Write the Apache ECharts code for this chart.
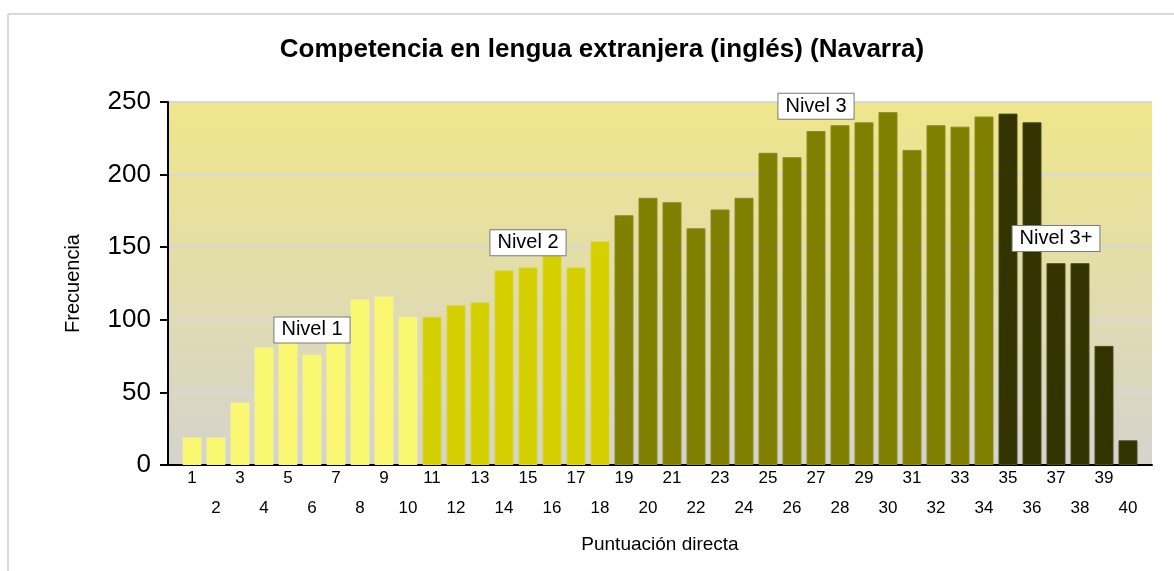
<!DOCTYPE html>
<html>
<head>
<meta charset="utf-8">
<script src="https://cdn.jsdelivr.net/npm/echarts@6/dist/echarts.min.js"></script>
<style>
html,body{margin:0;padding:0;background:#fff;}
#chart{width:1174px;height:571px;}
</style>
</head>
<body>
<div id="chart"></div>
<script>
// Data
const scores = [1,2,3,4,5,6,7,8,9,10,11,12,13,14,15,16,17,18,19,20,21,22,23,24,25,26,27,28,29,30,31,32,33,34,35,36,37,38,39,40];
const frequencies = [19,19,43,81,86,76,87,114,116,102,102,110,112,134,136,146,136,154,172,184,181,163,176,184,215,212,230,234,236,243,217,234,233,240,242,236,139,139,82,17];
const levelNames = ['Nivel 1','Nivel 2','Nivel 3','Nivel 3+'];
const levelMaxScore = [10,18,34,40];
const levelColors = ['#FAF870','#D4D000','#808000','#333300'];
const levelBorders = ['#F6F48A','#D8D530','#8A8A24','#4A4A1E'];
// annotation boxes: [score, frequency] positions in data space
const levelLabelX = [6,15,27,37];
const levelLabelY = [93,153,247,156];
const yTicks = [0,50,100,150,200,250];

function levelOf(s){ for(let i=0;i<levelMaxScore.length;i++){ if(s<=levelMaxScore[i]) return i; } return levelMaxScore.length-1; }

const barData = scores.map((s,i)=>({
  value:[s,frequencies[i]],
  itemStyle:{color:levelColors[levelOf(s)], borderColor:levelBorders[levelOf(s)], borderWidth:1}
}));
const labelData = levelNames.map((n,i)=>({name:n, value:[levelLabelX[i], levelLabelY[i]]}));

const FONT = '"Liberation Sans", Arial, sans-serif';
const chart = echarts.init(document.getElementById('chart'), null, {renderer:'canvas'});
chart.setOption({
  animation:false,
  backgroundColor:'#ffffff',
  title:{
    text:'Competencia en lengua extranjera (inglés) (Navarra)',
    left:597, top:32, textAlign:'center',
    textStyle:{fontFamily:FONT, fontSize:26, fontWeight:'bold', color:'#000'}
  },
  graphic:[
    {type:'line', shape:{x1:8, y1:14, x2:1174, y2:14}, style:{stroke:'#d9d9d9', lineWidth:2}, silent:true},
    {type:'line', shape:{x1:8, y1:14, x2:8, y2:571}, style:{stroke:'#d9d9d9', lineWidth:2}, silent:true}
  ],
  grid:{
    left:168, right:22, top:102, bottom:106, show:true, borderWidth:0,
    backgroundColor:new echarts.graphic.LinearGradient(0,0,0,1,[
      {offset:0, color:'#EFE68A'},
      {offset:1, color:'#D5D3CE'}
    ])
  },
  xAxis:{
    type:'value', min:0, max:41, interval:1,
    name:'Puntuación directa', nameLocation:'middle', nameGap:70,
    nameTextStyle:{fontFamily:FONT, fontSize:19, color:'#000'},
    axisLine:{show:true, onZero:false, lineStyle:{color:'#000', width:2}},
    axisTick:{show:false},
    splitLine:{show:false},
    axisLabel:{
      fontFamily:FONT, fontSize:17, color:'#000', lineHeight:30, margin:-2,
      showMinLabel:false, showMaxLabel:false,
      formatter:function(v){ if(v<1||v>40) return ''; return (v%2===1)? String(v) : '\n'+v; }
    }
  },
  yAxis:{
    type:'value', min:0, max:250, interval:50,
    name:'Frecuencia', nameLocation:'middle', nameGap:85, nameRotate:90,
    nameTextStyle:{fontFamily:FONT, fontSize:20, color:'#000'},
    axisLine:{show:true, lineStyle:{color:'#000', width:2}},
    axisTick:{show:true, length:8, lineStyle:{color:'#000', width:2}},
    splitLine:{show:true, lineStyle:{color:'#d8d8d8', width:2}},
    axisLabel:{fontFamily:FONT, fontSize:26, color:'#000', margin:17,
      formatter:function(v){ return yTicks.indexOf(v)>=0 ? String(v) : ''; }}
  },
  series:[
    {type:'bar', data:barData, barWidth:19},
    {type:'scatter', data:labelData, symbolSize:0, z:10,
      itemStyle:{opacity:1},
      label:{show:true, position:'inside', formatter:'{b}', opacity:1,
        fontFamily:FONT, fontSize:20, color:'#000',
        backgroundColor:'#fff', borderColor:'#7a7a7a', borderWidth:1,
        padding:[3,7,2,7]}}
  ]
});
</script>
</body>
</html>
